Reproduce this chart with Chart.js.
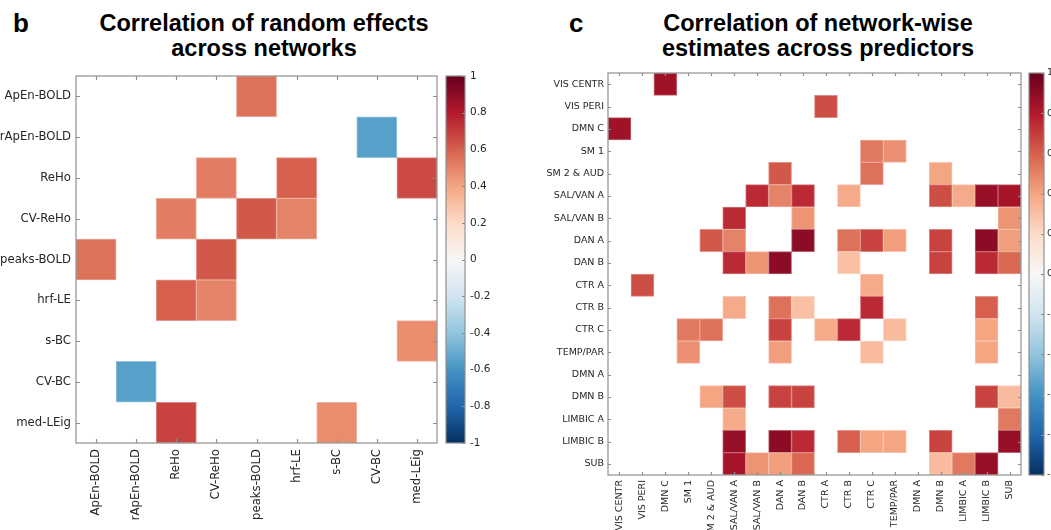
<!DOCTYPE html>
<html><head><meta charset="utf-8">
<script src="https://cdn.jsdelivr.net/npm/chart.js@4"></script>
<style>
html,body{margin:0;padding:0;background:#fff;}
body{width:1051px;height:530px;position:relative;overflow:hidden;}
canvas{position:absolute;top:0;}
.t{position:absolute;font-family:'Liberation Sans',Arial,sans-serif;font-weight:bold;color:#000;white-space:nowrap;}
</style></head><body>
<div class="t" style="left:13px;top:10px;font-size:26px;line-height:26px">b</div>
<div class="t" style="left:14px;top:11px;width:500px;text-align:center;font-size:23.5px;line-height:25px">Correlation of random effects<br>across networks</div>
<div class="t" style="left:569px;top:10px;font-size:26px;line-height:26px">c</div>
<div class="t" style="left:568px;top:11px;width:500px;text-align:center;font-size:23.5px;line-height:25px">Correlation of network-wise<br>estimates across predictors</div>
<canvas id="hb" width="445" height="530" style="left:0px"></canvas>
<canvas id="cb1" width="80" height="530" style="left:440px"></canvas>
<canvas id="hc" width="510" height="530" style="left:520px"></canvas>
<canvas id="cb2" width="29" height="530" style="left:1022px"></canvas>
<script>
// ---------- data ----------
const _ = null;
const netLabels = ['ApEn-BOLD','rApEn-BOLD','ReHo','CV-ReHo','peaks-BOLD','hrf-LE','s-BC','CV-BC','med-LEig'];
const netCorr = [
  [_,_,_,_,.55,_,_,_,_],
  [_,_,_,_,_,_,_,-.55,_],
  [_,_,_,.52,_,.6,_,_,.66],
  [_,_,.52,_,.62,.5,_,_,_],
  [.55,_,_,.62,_,_,_,_,_],
  [_,_,.6,.5,_,_,_,_,_],
  [_,_,_,_,_,_,_,_,.47],
  [_,-.55,_,_,_,_,_,_,_],
  [_,_,.68,_,_,_,.47,_,_]
];
const predLabels = ['VIS CENTR','VIS PERI','DMN C','SM 1','SM 2 & AUD','SAL/VAN A','SAL/VAN B','DAN A','DAN B','CTR A','CTR B','CTR C','TEMP/PAR','DMN A','DMN B','LIMBIC A','LIMBIC B','SUB'];
const predCorr = [
  [_,_,.85,_,_,_,_,_,_,_,_,_,_,_,_,_,_,_],
  [_,_,_,_,_,_,_,_,_,.65,_,_,_,_,_,_,_,_],
  [.85,_,_,_,_,_,_,_,_,_,_,_,_,_,_,_,_,_],
  [_,_,_,_,_,_,_,_,_,_,_,.53,.46,_,_,_,_,_],
  [_,_,_,_,_,_,_,.62,_,_,_,.55,_,_,.4,_,_,_],
  [_,_,_,_,_,_,.75,.5,.75,_,.38,_,_,_,.65,.38,.87,.83],
  [_,_,_,_,_,.75,_,_,.45,_,_,_,_,_,_,_,_,.45],
  [_,_,_,_,.62,.5,_,_,.9,_,.55,.68,.42,_,.68,_,.9,.42],
  [_,_,_,_,_,.75,.45,.9,_,_,.3,_,_,_,.68,_,.75,.58],
  [_,.65,_,_,_,_,_,_,_,_,_,.38,_,_,_,_,_,_],
  [_,_,_,_,_,.38,_,.55,.3,_,_,.75,_,_,_,_,.6,_],
  [_,_,_,.53,.55,_,_,.68,_,.38,.75,_,.32,_,_,_,.4,_],
  [_,_,_,.46,_,_,_,.42,_,_,_,.32,_,_,_,_,.4,_],
  [_,_,_,_,_,_,_,_,_,_,_,_,_,_,_,_,_,_],
  [_,_,_,_,.4,.65,_,.68,.68,_,_,_,_,_,_,_,.68,.32],
  [_,_,_,_,_,.38,_,_,_,_,_,_,_,_,_,_,_,.53],
  [_,_,_,_,_,.87,_,.9,.75,_,.6,.4,.4,_,.68,_,_,.87],
  [_,_,_,_,_,.83,.45,.42,.58,_,_,_,_,_,.32,.53,.87,_]
];
const cbTicks = [-1,-0.8,-0.6,-0.4,-0.2,0,0.2,0.4,0.6,0.8,1];
const rdbu = ['#053061','#2166ac','#4393c3','#92c5de','#d1e5f0','#f7f7f7','#fddbc7','#f4a582','#d6604d','#b2182b','#67001f'];

// ---------- helpers ----------
function hex(c){return [parseInt(c.slice(1,3),16),parseInt(c.slice(3,5),16),parseInt(c.slice(5,7),16)];}
function cmapRGB(v){
  const n = rdbu.length-1;
  const t = (v+1)/2*n;
  const i = Math.max(0, Math.min(Math.floor(t), n-1));
  const f = t-i;
  const a = hex(rdbu[i]), b = hex(rdbu[i+1]);
  return a.map((x,k)=>x+(b[k]-x)*f);
}
function rgb(c){return 'rgb('+c.map(Math.round).join(',')+')';}
function cmap(v){return rgb(cmapRGB(v));}
function cmapEdge(v){return rgb(cmapRGB(v).map(x=>x+(255-x)*0.35));}
function cells(matrix, rows){
  const out=[];
  matrix.forEach((row,r)=>row.forEach((v,c)=>{ if(v!==null) out.push({x:[c-0.5,c+0.5], y:rows[r], v:v}); }));
  return out;
}
const GRAY = '#8f8f8f';
const TXT = '#262626';
const boxPlugin = {
  id:'box',
  afterDatasetsDraw(chart, args, o){
    const {ctx, chartArea:a, scales} = chart;
    ctx.save();
    ctx.strokeStyle = o.color; ctx.lineWidth = o.width;
    ctx.beginPath();
    const L = o.tick;
    if (o.xTicks){
      scales.x.ticks.forEach((t,i)=>{
        const p = Math.round(scales.x.getPixelForTick(i))+0.5;
        ctx.moveTo(p,a.bottom); ctx.lineTo(p,a.bottom-L);
        ctx.moveTo(p,a.top); ctx.lineTo(p,a.top+L);
      });
    }
    if (o.yTicks){
      scales.y.ticks.forEach((t,i)=>{
        const p = Math.round(scales.y.getPixelForTick(i))+0.5;
        if (o.yLeft){ ctx.moveTo(a.left,p); ctx.lineTo(a.left+L,p); }
        ctx.moveTo(a.right,p); ctx.lineTo(a.right-L,p);
      });
    }
    ctx.stroke();
    ctx.strokeRect(a.left, a.top, a.right-a.left, a.bottom-a.top);
    ctx.restore();
  }
};

function heatmap(id, labels, matrix, geo){
  const data = cells(matrix, labels);
  const font = {family:"'DejaVu Sans', sans-serif", size:geo.font};
  return new Chart(document.getElementById(id), {
    type:'bar',
    data:{ labels:labels, datasets:[{
      data:data,
      backgroundColor:data.map(d=>cmap(d.v)),
      borderColor:data.map(d=>cmapEdge(d.v)),
      borderWidth:1, borderSkipped:false,
      barPercentage:1, categoryPercentage:1
    }]},
    options:{
      indexAxis:'y', responsive:false, animation:false, devicePixelRatio:1,
      layout:{padding:{top:geo.top, right:geo.right, left:0, bottom:0}},
      plugins:{legend:{display:false}, tooltip:{enabled:false},
        box:{color:GRAY, width:1.2, tick:geo.tick, xTicks:true, yTicks:true, yLeft:true}},
      scales:{
        y:{type:'category', offset:true, grid:{display:false, drawTicks:false}, border:{display:false},
           ticks:{font:font, color:TXT, padding:geo.ypad, autoSkip:false},
           afterFit:s=>{s.width=geo.yw; s.paddingTop=0; s.paddingBottom=0;}},
        x:{type:'linear', bounds:'data', min:-0.5, max:labels.length-0.5,
           grid:{display:false, drawTicks:false}, border:{display:false},
           ticks:{font:font, color:TXT, padding:geo.xpad, autoSkip:false, minRotation:90, maxRotation:90,
                  callback:v=>labels[v]},
           afterBuildTicks:s=>{ s.ticks = labels.map((_l,i)=>({value:i})); },
           afterFit:s=>{s.height=geo.xh; s.paddingLeft=0; s.paddingRight=0;}}
      }
    },
    plugins:[boxPlugin]
  });
}

function colorbar(id, geo){
  const font = {family:"'DejaVu Sans', sans-serif", size:geo.font};
  return new Chart(document.getElementById(id), {
    type:'bar',
    data:{ labels:[''], datasets:[{
      data:[[cbTicks[0], cbTicks[cbTicks.length-1]]],
      backgroundColor:(c)=>{
        const ch=c.chart; if(!ch.chartArea) return 'transparent';
        const y=ch.scales.y;
        const g=ch.ctx.createLinearGradient(0,y.getPixelForValue(-1),0,y.getPixelForValue(1));
        rdbu.forEach((col,i)=>g.addColorStop(i/(rdbu.length-1), col));
        return g;
      },
      borderWidth:0, barPercentage:1, categoryPercentage:1
    }]},
    options:{
      responsive:false, animation:false, devicePixelRatio:1,
      layout:{padding:{top:geo.top, bottom:geo.bottom, left:geo.left, right:0}},
      plugins:{legend:{display:false}, tooltip:{enabled:false},
        box:{color:GRAY, width:1.2, tick:geo.tick, xTicks:false, yTicks:true, yLeft:false}},
      scales:{
        x:{display:false},
        y:{position:'right', min:-1, max:1, bounds:'data', grid:{display:false, drawTicks:false}, border:{display:false},
           ticks:{font:font, color:TXT, padding:geo.pad, callback:v=>String(Math.round(v*10)/10)},
           afterBuildTicks:s=>{ s.ticks = cbTicks.map(v=>({value:v})); },
           afterFit:s=>{s.width=geo.w; s.paddingTop=0; s.paddingBottom=0;}}
      }
    },
    plugins:[boxPlugin]
  });
}

heatmap('hb', netLabels, netCorr, {font:11.7, top:76, right:8, yw:76, xh:87, ypad:5, xpad:6, tick:4});
colorbar('cb1', {font:10.5, top:76, bottom:87, left:6, w:55, pad:5, tick:3});
heatmap('hc', predLabels, predCorr, {font:9.5, top:73, right:9, yw:88, xh:55, ypad:4, xpad:5, tick:3});
colorbar('cb2', {font:9.5, top:73, bottom:55, left:7, w:7, pad:3, tick:3});
</script>
</body></html>
